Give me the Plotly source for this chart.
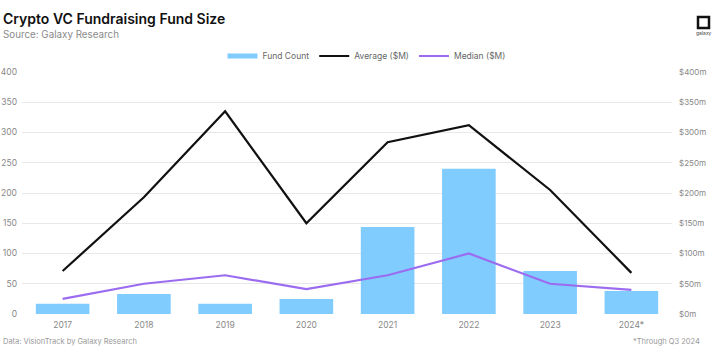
import plotly.graph_objects as go

years = ["2017", "2018", "2019", "2020", "2021", "2022", "2023", "2024*"]
fund_count = [17, 33, 17, 25, 144, 240, 71, 38]
average_m = [71, 193, 335, 150, 284, 312, 205, 68]
median_m = [25, 50, 64, 41, 64, 100, 50, 40]
left_ticks = [0, 50, 100, 150, 200, 250, 300, 350, 400]
right_ticks = [0, 50, 100, 150, 200, 250, 300, 350, 400]
right_labels = ["$" + str(v) + "m" for v in right_ticks]

W, H = 726, 350
ML, MR, MT, MB = 22, 54, 72, 36
PW, PH = W - ML - MR, H - MT - MB

def px(x):
    return (x - ML) / PW

def py(y):
    return (H - MB - y) / PH

bar_color = "#80ccff"
fig = go.Figure()
fig.add_trace(go.Bar(x=years, y=fund_count, name="Fund Count", showlegend=False,
                     marker=dict(color=bar_color, line=dict(width=0)), yaxis="y"))
# legend proxy for the bar series (flat swatch as in the reference)
fig.add_trace(go.Scatter(x=[None], y=[None], name="Fund Count", mode="lines",
                         line=dict(color=bar_color, width=5), yaxis="y"))
fig.add_trace(go.Scatter(x=years, y=average_m, name="Average ($M)", mode="lines",
                         line=dict(color="#111111", width=2.2), yaxis="y2"))
fig.add_trace(go.Scatter(x=years, y=median_m, name="Median ($M)", mode="lines",
                         line=dict(color="#9b6cf0", width=2.2), yaxis="y2"))

gray = "#888888"
fig.update_layout(
    width=W, height=H,
    margin=dict(l=ML, r=MR, t=MT, b=MB, autoexpand=False),
    paper_bgcolor="white", plot_bgcolor="white",
    font=dict(family="Inter, Roboto, sans-serif", size=8.5, color=gray),
    bargap=0.34,
    showlegend=True,
    legend=dict(orientation="h", x=0.53, xanchor="center", y=py(56), yanchor="middle",
                font=dict(size=8.5, color="#666666"), itemwidth=30, tracegroupgap=0,
                bgcolor="rgba(0,0,0,0)"),
    xaxis=dict(showgrid=False, showline=False, ticks="", tickfont=dict(size=8.5, color=gray),
               ticklabelstandoff=4, automargin=False),
    yaxis=dict(range=[0, 400], tickvals=left_ticks, showgrid=True, gridcolor="#e8e8e8",
               gridwidth=1, zeroline=False, showline=False, ticks="",
               tickfont=dict(size=8.5, color=gray), ticklabelstandoff=4, automargin=False),
    yaxis2=dict(range=[0, 400], tickvals=right_ticks, ticktext=right_labels,
                overlaying="y", side="right", automargin=False,
                showgrid=False, zeroline=False, showline=False, ticks="",
                tickfont=dict(size=8, color=gray), ticklabelstandoff=6),
    annotations=[
        dict(text="Crypto VC Fundraising Fund Size", xref="paper", yref="paper",
             x=px(1), y=py(18), xanchor="left", yanchor="middle", showarrow=False,
             font=dict(size=14, color="#111111", weight=600,
                       family="Inter, Roboto, sans-serif")),
        dict(text="Source: Galaxy Research", xref="paper", yref="paper",
             x=px(1), y=py(35), xanchor="left", yanchor="middle", showarrow=False,
             font=dict(size=9.8, color="#8a8a8a")),
        dict(text="Data: VisionTrack by Galaxy Research", xref="paper", yref="paper",
             x=px(1), y=py(341), xanchor="left", yanchor="middle", showarrow=False,
             font=dict(size=7.5, color="#9a9a9a")),
        dict(text="*Through Q3 2024", xref="paper", yref="paper",
             x=px(702), y=py(341), xanchor="right", yanchor="middle", showarrow=False,
             font=dict(size=7.5, color="#9a9a9a")),
        dict(text="galaxy", xref="paper", yref="paper",
             x=px(703.5), y=py(33), xanchor="center", yanchor="middle", showarrow=False,
             font=dict(size=5, color="#444444")),
    ],
    shapes=[
        dict(type="rect", xref="paper", yref="paper",
             x0=px(698), x1=px(709), y0=py(28), y1=py(17),
             line=dict(color="#111111", width=2.5)),
    ],
)

fig.write_html("out.html")
